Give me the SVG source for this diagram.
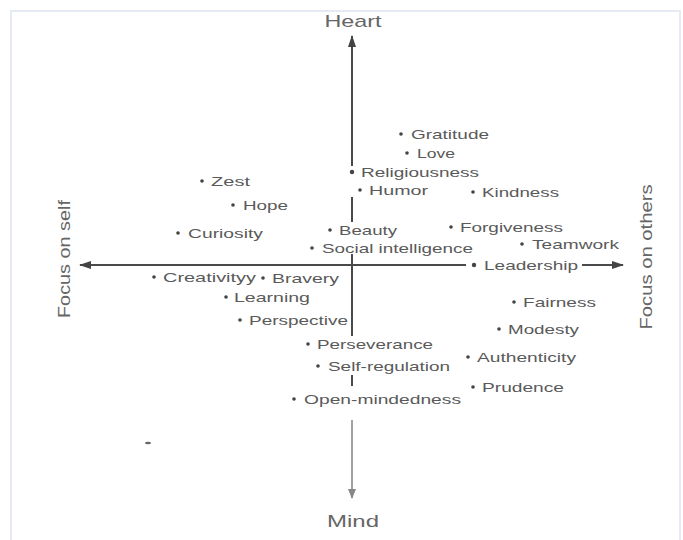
<svg xmlns="http://www.w3.org/2000/svg" width="683" height="540" viewBox="0 0 683 540">
  <defs>
    <style>
      .lbl { font-family: "Liberation Sans", Arial, sans-serif; font-size: 13px; fill: #5a5a5a; }
      .pole { font-family: "Liberation Sans", Arial, sans-serif; font-size: 17px; fill: #666; }
      .dot { fill: #444; }
      .axis { stroke: #4a4a4a; stroke-width: 2; fill: none; }
      .axis-light { stroke: #8a8a8a; stroke-width: 1.6; fill: none; }
    </style>
    <marker id="head" viewBox="0 0 12 8" refX="11" refY="4" markerWidth="12" markerHeight="8" markerUnits="userSpaceOnUse" orient="auto">
      <path d="M0,0 L12,4 L0,8 Z" fill="#444"/>
    </marker>
    <marker id="head-light" viewBox="0 0 10 8" refX="9" refY="4" markerWidth="10" markerHeight="8" markerUnits="userSpaceOnUse" orient="auto">
      <path d="M0,0 L10,4 L0,8 Z" fill="#888"/>
    </marker>
  </defs>

  <rect x="0" y="0" width="683" height="540" fill="#fff"/>
  <!-- page frame -->
  <path d="M11,540 V11 H680 V540" fill="none" stroke="#e6eaf2" stroke-width="2"/>

  <!-- axes -->
  <g id="connectors">
    <line class="axis" x1="352" y1="166" x2="352" y2="36" marker-end="url(#head)"/>
    <line class="axis" x1="352" y1="197" x2="352" y2="222"/>
    <line class="axis" x1="352" y1="254" x2="352" y2="336"/>
    <line class="axis" x1="352" y1="375" x2="352" y2="386"/>
    <line class="axis-light" x1="352" y1="420" x2="352" y2="498" marker-end="url(#head-light)"/>
    <line class="axis" x1="466" y1="265" x2="80" y2="265" marker-end="url(#head)"/>
    <line class="axis" x1="582" y1="265" x2="623" y2="265" marker-end="url(#head)"/>
  </g>

  <!-- pole labels -->
  <g id="pole-heart"><text class="pole" x="353" y="27" text-anchor="middle" textLength="57" lengthAdjust="spacingAndGlyphs">Heart</text></g>
  <g id="pole-mind"><text class="pole" x="353" y="527" text-anchor="middle" textLength="52" lengthAdjust="spacingAndGlyphs">Mind</text></g>
  <g id="pole-self"><text class="pole" transform="translate(70,259) rotate(-90)" text-anchor="middle" textLength="118" lengthAdjust="spacingAndGlyphs">Focus on self</text></g>
  <g id="pole-others"><text class="pole" transform="translate(652,257) rotate(-90)" text-anchor="middle" textLength="145" lengthAdjust="spacingAndGlyphs">Focus on others</text></g>

  <!-- character strengths -->
  <g id="gratitude"><circle class="dot" cx="401" cy="134" r="1.8"/><text class="lbl" x="411" y="139" textLength="78" lengthAdjust="spacingAndGlyphs">Gratitude</text></g>
  <g id="love"><circle class="dot" cx="407" cy="153" r="1.8"/><text class="lbl" x="417" y="158" textLength="38" lengthAdjust="spacingAndGlyphs">Love</text></g>
  <g id="religiousness"><circle class="dot" cx="352" cy="172" r="2.2"/><text class="lbl" x="361" y="177" textLength="118" lengthAdjust="spacingAndGlyphs">Religiousness</text></g>
  <g id="humor"><circle class="dot" cx="360" cy="190" r="1.8"/><text class="lbl" x="369" y="195" textLength="59" lengthAdjust="spacingAndGlyphs">Humor</text></g>
  <g id="kindness"><circle class="dot" cx="473" cy="192" r="1.8"/><text class="lbl" x="482" y="197" textLength="77" lengthAdjust="spacingAndGlyphs">Kindness</text></g>
  <g id="zest"><circle class="dot" cx="202" cy="181" r="1.8"/><text class="lbl" x="211" y="186" textLength="39" lengthAdjust="spacingAndGlyphs">Zest</text></g>
  <g id="hope"><circle class="dot" cx="233" cy="205" r="1.8"/><text class="lbl" x="243" y="210" textLength="45" lengthAdjust="spacingAndGlyphs">Hope</text></g>
  <g id="curiosity"><circle class="dot" cx="178" cy="233" r="1.8"/><text class="lbl" x="188" y="238" textLength="75" lengthAdjust="spacingAndGlyphs">Curiosity</text></g>
  <g id="beauty"><circle class="dot" cx="330" cy="230" r="1.8"/><text class="lbl" x="339" y="235" textLength="58" lengthAdjust="spacingAndGlyphs">Beauty</text></g>
  <g id="forgiveness"><circle class="dot" cx="451" cy="227" r="1.8"/><text class="lbl" x="460" y="232" textLength="103" lengthAdjust="spacingAndGlyphs">Forgiveness</text></g>
  <g id="teamwork"><circle class="dot" cx="522" cy="244" r="1.8"/><text class="lbl" x="532" y="249" textLength="87" lengthAdjust="spacingAndGlyphs">Teamwork</text></g>
  <g id="social-intelligence"><circle class="dot" cx="312" cy="248" r="1.8"/><text class="lbl" x="322" y="253" textLength="151" lengthAdjust="spacingAndGlyphs">Social intelligence</text></g>
  <g id="leadership"><circle class="dot" cx="474" cy="265" r="2.2"/><text class="lbl" x="484" y="270" textLength="94" lengthAdjust="spacingAndGlyphs">Leadership</text></g>
  <g id="creativity"><circle class="dot" cx="154" cy="277" r="1.8"/><text class="lbl" x="163" y="282" textLength="93" lengthAdjust="spacingAndGlyphs">Creativityy</text></g>
  <g id="bravery"><circle class="dot" cx="263" cy="278" r="1.8"/><text class="lbl" x="272" y="283" textLength="67" lengthAdjust="spacingAndGlyphs">Bravery</text></g>
  <g id="learning"><circle class="dot" cx="226" cy="297" r="1.8"/><text class="lbl" x="234" y="302" textLength="76" lengthAdjust="spacingAndGlyphs">Learning</text></g>
  <g id="fairness"><circle class="dot" cx="514" cy="302" r="1.8"/><text class="lbl" x="523" y="307" textLength="73" lengthAdjust="spacingAndGlyphs">Fairness</text></g>
  <g id="perspective"><circle class="dot" cx="240" cy="320" r="1.8"/><text class="lbl" x="249" y="325" textLength="99" lengthAdjust="spacingAndGlyphs">Perspective</text></g>
  <g id="modesty"><circle class="dot" cx="499" cy="329" r="1.8"/><text class="lbl" x="508" y="334" textLength="71" lengthAdjust="spacingAndGlyphs">Modesty</text></g>
  <g id="perseverance"><circle class="dot" cx="308" cy="344" r="1.8"/><text class="lbl" x="317" y="349" textLength="116" lengthAdjust="spacingAndGlyphs">Perseverance</text></g>
  <g id="authenticity"><circle class="dot" cx="468" cy="357" r="1.8"/><text class="lbl" x="477" y="362" textLength="99" lengthAdjust="spacingAndGlyphs">Authenticity</text></g>
  <g id="self-regulation"><circle class="dot" cx="318" cy="366" r="1.8"/><text class="lbl" x="328" y="371" textLength="122" lengthAdjust="spacingAndGlyphs">Self-regulation</text></g>
  <g id="prudence"><circle class="dot" cx="473" cy="387" r="1.8"/><text class="lbl" x="482" y="392" textLength="82" lengthAdjust="spacingAndGlyphs">Prudence</text></g>
  <g id="open-mindedness"><circle class="dot" cx="294" cy="399" r="1.8"/><text class="lbl" x="304" y="404" textLength="157" lengthAdjust="spacingAndGlyphs">Open-mindedness</text></g>

  <!-- stray ink mark -->
  <ellipse cx="148" cy="443" rx="3" ry="1.2" fill="#666"/>
</svg>
